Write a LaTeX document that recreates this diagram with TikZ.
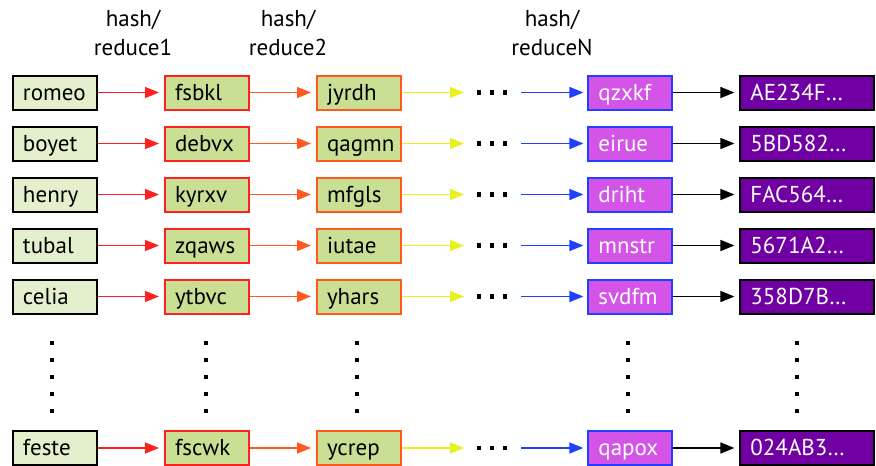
\documentclass[tikz,border=0pt]{standalone}
\usepackage{fontspec}
\setmainfont{PT Sans}
\usetikzlibrary{arrows.meta,positioning}
\definecolor{pwfill}{HTML}{E3EFCD}
\definecolor{redfill}{HTML}{C9DF94}
\definecolor{hashred}{HTML}{FF2020}
\definecolor{hashorange}{HTML}{FF5A1E}
\definecolor{hashyellow}{HTML}{E8F020}
\definecolor{hashblue}{HTML}{2040FF}
\definecolor{endfill}{HTML}{D454E8}
\definecolor{valfill}{HTML}{7000A3}
% three square dots inside a row gap node
\newcommand{\rowdots}[1]{%
  \foreach \dx in {-13,0,13} \fill ([xshift=\dx pt]#1.center) +(-2.2pt,-2.2pt) rectangle +(2.2pt,2.2pt);}
% five square dots down a column
\newcommand{\coldots}[1]{%
  \foreach \dy in {343,360,377,394,411} \fill (#1,\dy) +(-2.2pt,-2.2pt) rectangle +(2.2pt,2.2pt);}

\begin{document}
\begin{tikzpicture}[x=1pt,y=-1pt,>={Triangle[length=14pt,width=11pt]},
  font=\fontsize{23}{29}\selectfont,
  box/.style={draw,line width=2pt,minimum height=34pt,text width=64pt,inner xsep=10pt,
    inner ysep=0pt,text height=17pt,text depth=2pt,align=left},
  pw/.style={box,fill=pwfill},
  reda/.style={box,draw=hashred,fill=redfill},
  redb/.style={box,draw=hashorange,fill=redfill},
  redn/.style={box,draw=hashblue,fill=endfill,text=white},
  hval/.style={box,fill=valfill,text=white,text width=114pt},
  gap/.style={minimum width=31pt,minimum height=34pt,inner sep=0pt},
  lnk/.style={->,line width=1.5pt,shorten >=5pt},
  lab/.style={align=center}]
\useasboundingbox (0,0) rectangle (876,466);

\node[lab] (lab1) at (133,33) {hash/\\reduce1};
\node[lab] (lab2) at (288,33) {hash/\\reduce2};
\node[lab] (labN) at (552,33) {hash/\\reduceN};

% row 1
\node[pw] (pw1) at (55,92.5) {romeo};
\node[reda,right=66pt of pw1] (ra1) {fsbkl};
\node[redb,right=66pt of ra1] (rb1) {jyrdh};
\node[gap,right=74pt of rb1] (dt1) {};
\node[redn,right=80pt of dt1] (rn1) {qzxkf};
\node[hval,right=66pt of rn1] (hv1) {AE234F\ldots};
\draw[lnk,hashred] (pw1) -- (ra1);
\draw[lnk,hashorange] (ra1) -- (rb1);
\draw[lnk,hashyellow,shorten >=12pt] (rb1) -- (dt1);
\draw[lnk,hashblue,shorten <=14pt,shorten >=4pt] (dt1) -- (rn1);
\draw[lnk,black] (rn1) -- (hv1);
\rowdots{dt1}

% row 2
\node[pw] (pw2) at (55,143.5) {boyet};
\node[reda,right=66pt of pw2] (ra2) {debvx};
\node[redb,right=66pt of ra2] (rb2) {qagmn};
\node[gap,right=74pt of rb2] (dt2) {};
\node[redn,right=80pt of dt2] (rn2) {eirue};
\node[hval,right=66pt of rn2] (hv2) {5BD582\ldots};
\draw[lnk,hashred] (pw2) -- (ra2);
\draw[lnk,hashorange] (ra2) -- (rb2);
\draw[lnk,hashyellow,shorten >=12pt] (rb2) -- (dt2);
\draw[lnk,hashblue,shorten <=14pt,shorten >=4pt] (dt2) -- (rn2);
\draw[lnk,black] (rn2) -- (hv2);
\rowdots{dt2}

% row 3
\node[pw] (pw3) at (55,194.5) {henry};
\node[reda,right=66pt of pw3] (ra3) {kyrxv};
\node[redb,right=66pt of ra3] (rb3) {mfgls};
\node[gap,right=74pt of rb3] (dt3) {};
\node[redn,right=80pt of dt3] (rn3) {driht};
\node[hval,right=66pt of rn3] (hv3) {FAC564\ldots};
\draw[lnk,hashred] (pw3) -- (ra3);
\draw[lnk,hashorange] (ra3) -- (rb3);
\draw[lnk,hashyellow,shorten >=12pt] (rb3) -- (dt3);
\draw[lnk,hashblue,shorten <=14pt,shorten >=4pt] (dt3) -- (rn3);
\draw[lnk,black] (rn3) -- (hv3);
\rowdots{dt3}

% row 4
\node[pw] (pw4) at (55,245.5) {tubal};
\node[reda,right=66pt of pw4] (ra4) {zqaws};
\node[redb,right=66pt of ra4] (rb4) {iutae};
\node[gap,right=74pt of rb4] (dt4) {};
\node[redn,right=80pt of dt4] (rn4) {mnstr};
\node[hval,right=66pt of rn4] (hv4) {5671A2\ldots};
\draw[lnk,hashred] (pw4) -- (ra4);
\draw[lnk,hashorange] (ra4) -- (rb4);
\draw[lnk,hashyellow,shorten >=12pt] (rb4) -- (dt4);
\draw[lnk,hashblue,shorten <=14pt,shorten >=4pt] (dt4) -- (rn4);
\draw[lnk,black] (rn4) -- (hv4);
\rowdots{dt4}

% row 5
\node[pw] (pw5) at (55,296.5) {celia};
\node[reda,right=66pt of pw5] (ra5) {ytbvc};
\node[redb,right=66pt of ra5] (rb5) {yhars};
\node[gap,right=74pt of rb5] (dt5) {};
\node[redn,right=80pt of dt5] (rn5) {svdfm};
\node[hval,right=66pt of rn5] (hv5) {358D7B\ldots};
\draw[lnk,hashred] (pw5) -- (ra5);
\draw[lnk,hashorange] (ra5) -- (rb5);
\draw[lnk,hashyellow,shorten >=12pt] (rb5) -- (dt5);
\draw[lnk,hashblue,shorten <=14pt,shorten >=4pt] (dt5) -- (rn5);
\draw[lnk,black] (rn5) -- (hv5);
\rowdots{dt5}

% column dots
\coldots{52}
\coldots{206}
\coldots{357}
\coldots{628}
\coldots{797}

% last row
\node[pw] (pw6) at (55,448) {feste};
\node[reda,right=66pt of pw6] (ra6) {fscwk};
\node[redb,right=66pt of ra6] (rb6) {ycrep};
\node[gap,right=74pt of rb6] (dt6) {};
\node[redn,right=80pt of dt6] (rn6) {qapox};
\node[hval,right=66pt of rn6] (hv6) {024AB3\ldots};
\draw[lnk,hashred] (pw6) -- (ra6);
\draw[lnk,hashorange] (ra6) -- (rb6);
\draw[lnk,hashyellow,shorten >=12pt] (rb6) -- (dt6);
\draw[lnk,hashblue,shorten <=14pt,shorten >=4pt] (dt6) -- (rn6);
\draw[lnk,black] (rn6) -- (hv6);
\rowdots{dt6}
\end{tikzpicture}
\end{document}
